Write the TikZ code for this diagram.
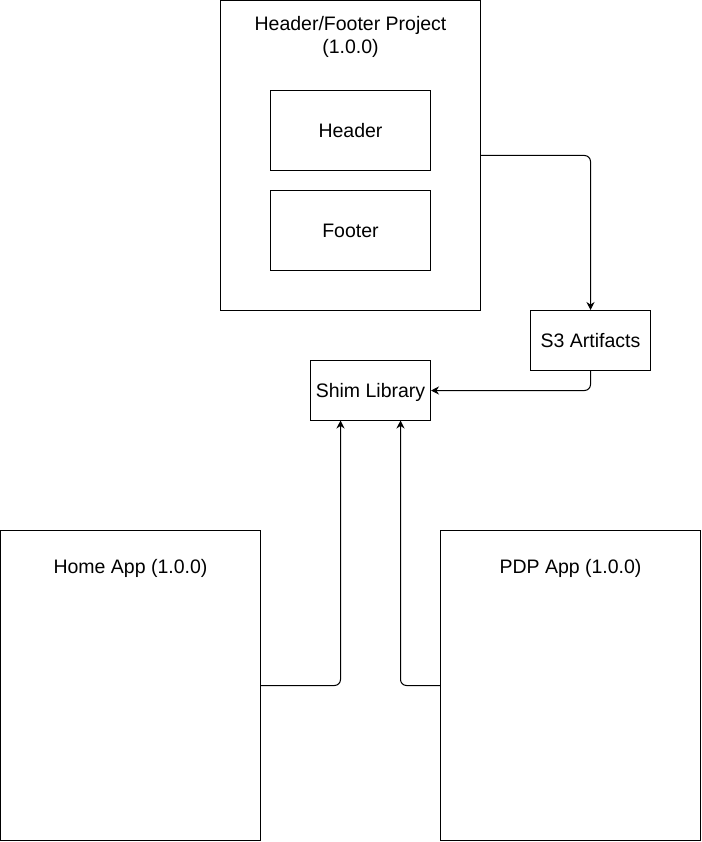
\documentclass[tikz,border=0pt]{standalone}
\usepackage{fontspec}
\setmainfont{Liberation Sans}
\usetikzlibrary{arrows.meta}
\begin{document}
\begin{tikzpicture}[x=1pt,y=-1pt,
  box/.style={draw=black,line width=1pt,fill=white},
  lbltwo/.style={font=\fontsize{19.5pt}{23pt}\selectfont,align=center,inner sep=0pt},
  lbl/.style={lbltwo,text height=14pt,text depth=0pt},
  conn/.style={draw=black,line width=1pt,rounded corners=6pt,-{Stealth[length=8pt,width=8pt]}}]
\useasboundingbox[fill=white] (0,0) rectangle (701,842);
% boxes
\draw[box] (220.5,0.5) rectangle (480.5,310.5);
\node[lbltwo] (projlbl) at (350.5,36.5) {Header/Footer Project\\(1.0.0)};
\coordinate (projR) at (480.5,155.5);
\node[box,minimum width=160pt,minimum height=80pt,inner sep=0pt,lbl] (header) at (350.5,130.5) {Header};
\node[box,minimum width=160pt,minimum height=80pt,inner sep=0pt,lbl] (footer) at (350.5,230.5) {Footer};
\node[box,minimum width=120pt,minimum height=60pt,inner sep=0pt,lbl] (s3) at (590.5,340.5) {S3 Artifacts};
\node[box,minimum width=120pt,minimum height=60pt,inner sep=0pt,lbl] (shim) at (370.5,390.5) {Shim Library};
\draw[box] (0.5,530.5) rectangle (260.5,840.5);
\node[lbl] (homelbl) at (130.5,566.5) {Home App (1.0.0)};
\coordinate (homeR) at (260.5,685.5);
\draw[box] (440.5,530.5) rectangle (700.5,840.5);
\node[lbl] (pdplbl) at (570.5,566.5) {PDP App (1.0.0)};
\coordinate (pdpL) at (440.5,685.5);
% connectors
\draw[conn] (projR) -- (590.5,155.5) -- (s3.north);
\draw[conn] (s3.south) -- (590.5,390.5) -- (shim.east);
\draw[conn] (homeR) -- (340.5,685.5) -- (340.5,420.5);
\draw[conn] (pdpL) -- (400.5,685.5) -- (400.5,420.5);
\end{tikzpicture}
\end{document}
